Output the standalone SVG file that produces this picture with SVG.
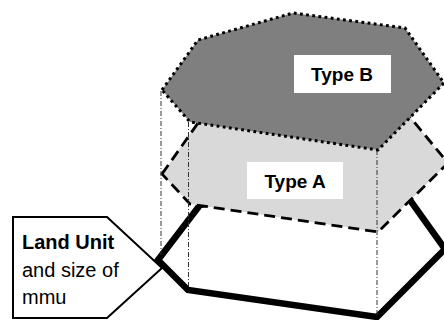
<svg xmlns="http://www.w3.org/2000/svg" width="444" height="320" viewBox="0 0 444 320">
<style>
.lbl{font-family:"Liberation Sans",Arial,sans-serif;font-weight:bold;font-size:19px;fill:#000;text-anchor:middle}
.call{font-family:"Liberation Sans",Arial,sans-serif;font-size:20px;fill:#000}
.guide{fill:none;stroke:#333;stroke-width:1;stroke-dasharray:5,2,1,2}
</style>
<rect width="444" height="320" fill="#fff"/>
<g id="landUnit">
<polygon points="158,260 200,205 300,186 410,200 445,249 377,317 188,290" fill="#fff" stroke="#000" stroke-width="6.5" stroke-linejoin="miter"/>
</g>
<g id="typeA">
<polygon points="162,174 198,123 293,96 405,111 448,163 378,232 190,204" fill="#d9d9d9" stroke="#000" stroke-width="2.8" stroke-dasharray="11,6"/>
<rect x="247" y="162" width="96" height="37" fill="#fff"/>
<text class="lbl" x="295" y="188">Type A</text>
</g>
<g id="connectors">
<line class="guide" x1="161" y1="91" x2="161" y2="255"/>
<line class="guide" x1="188.5" y1="122" x2="188.5" y2="286"/>
<line class="guide" x1="377" y1="150" x2="377" y2="315"/>
</g>
<g id="typeB">
<polygon points="162,90 198,40 293,13 405,28 444,83 378,150 190,122" fill="#7f7f7f" stroke="#000" stroke-width="3" stroke-dasharray="2.8,3.4"/>
<rect x="294" y="55" width="97" height="38" fill="#fff"/>
<text class="lbl" x="342" y="81">Type B</text>
</g>
<g id="callout">
<polygon points="13,217 107,217 162,268 107,318 13,318" fill="#fff" stroke="#000" stroke-width="2"/>
<text class="call" x="22" y="249" font-weight="bold">Land Unit</text>
<text class="call" x="22" y="277">and size of</text>
<text class="call" x="22" y="304">mmu</text>
</g>
</svg>
